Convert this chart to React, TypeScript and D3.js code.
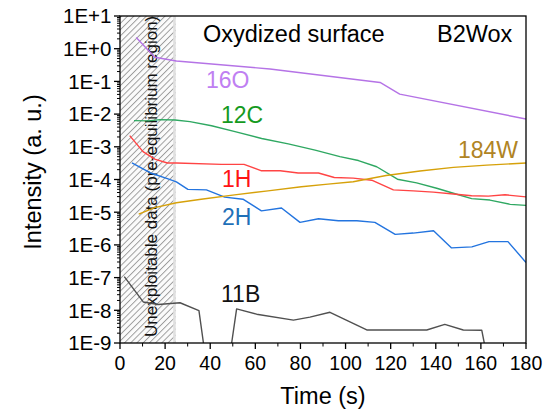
import React from "react";
import * as d3 from "d3";

const xTicks = [0, 20, 40, 60, 80, 100, 120, 140, 160, 180];
const yTickExps = [1, 0, -1, -2, -3, -4, -5, -6, -7, -8, -9];
const yTickLabels = ["1E+1", "1E+0", "1E-1", "1E-2", "1E-3", "1E-4", "1E-5", "1E-6", "1E-7", "1E-8", "1E-9"];

const t16O = [7.2, 15.4, 25, 66.5, 115.3, 124, 180];
const v16O = [2.2, 0.55, 0.42, 0.24, 0.093, 0.041, 0.0071];

const t12C = [6.2, 12.6, 17.7, 24.4, 31, 40.6, 51, 62.8, 74.6, 86.5, 97.5, 105.7, 113.8, 123, 131.5, 140.4, 147.8, 155.9, 164, 173, 180];
const v12C = [6.3e-3, 6.2e-3, 6.8e-3, 6.6e-3, 5.9e-3, 4.4e-3, 2.9e-3, 1.8e-3, 1.23e-3, 7.9e-4, 5.0e-4, 3.8e-4, 2.45e-4, 1.02e-4, 7.9e-5, 5.4e-5, 3.8e-5, 2.6e-5, 2.35e-5, 1.74e-5, 1.62e-5];

const t1H = [4.3, 10.2, 15.4, 21, 25, 45, 55, 62.5, 71, 79, 88, 95, 103.4, 111.6, 121.2, 130, 138.9, 147.8, 155.9, 163.3, 170.7, 180];
const v1H = [2.2e-3, 7.1e-4, 4.2e-4, 3.2e-4, 3.2e-4, 2.9e-4, 2.9e-4, 1.86e-4, 1.86e-4, 1.58e-4, 1.58e-4, 1.15e-4, 1.1e-4, 9.5e-5, 4.8e-5, 4.5e-5, 4.1e-5, 3.6e-5, 3.2e-5, 3.1e-5, 3.4e-5, 2.95e-5];

const t2H = [5.3, 13.9, 21.3, 25, 30.1, 38.3, 46.4, 54.5, 62.7, 71.6, 79.8, 88, 96.8, 105, 113, 122, 130, 139, 147, 156, 163.6, 172, 180];
const v2H = [3.2e-4, 1.55e-4, 1.05e-4, 8.5e-5, 5.0e-5, 4.8e-5, 2.9e-5, 2.5e-5, 1.1e-5, 1.35e-5, 4.9e-6, 6.3e-6, 5.5e-6, 5.5e-6, 4.9e-6, 2.1e-6, 2.3e-6, 2.7e-6, 8.1e-7, 8.7e-7, 1.26e-6, 1.26e-6, 2.9e-7];

const t184W = [8.3, 15.4, 25, 36, 50.8, 65.6, 80.4, 92.2, 103.4, 118, 133, 147.8, 162.6, 180];
const v184W = [8.7e-6, 1.38e-5, 1.95e-5, 2.5e-5, 3.4e-5, 4.5e-5, 6.0e-5, 7.2e-5, 8.5e-5, 1.32e-4, 1.82e-4, 2.35e-4, 2.75e-4, 3.2e-4];

// NaN marks a break in the 11B trace (signal below detection)
const t11B = [1.9, 10.3, 17, 26.6, 35, 37, NaN, 49.5, 51.7, 60.6, 76.9, 84.2, 93.1, 109.4, 136, 144, 152.2, 160.4, 161.5];
const v11B = [1.07e-7, 1.8e-8, 1.5e-8, 1.7e-8, 9.8e-9, 1e-9, NaN, 1e-9, 1.1e-8, 7.6e-9, 5.0e-9, 6.2e-9, 8.7e-9, 2.5e-9, 2.5e-9, 3.7e-9, 2.5e-9, 2.45e-9, 1e-9];

const hatchEnd = 24.7;

const series = [
  { name: "16O", t: t16O, v: v16O, color: "#b573e6", label: "#bf80f2", lx: 206, ly: 88 },
  { name: "12C", t: t12C, v: v12C, color: "#2fa862", label: "#159a1e", lx: 221, ly: 123 },
  { name: "1H", t: t1H, v: v1H, color: "#ff4444", label: "#ff1414", lx: 222, ly: 187 },
  { name: "2H", t: t2H, v: v2H, color: "#2374df", label: "#1f70b8", lx: 222, ly: 225 },
  { name: "184W", t: t184W, v: v184W, color: "#d6a10a", label: "#b08424", lx: 458, ly: 158 },
  { name: "11B", t: t11B, v: v11B, color: "#505050", label: "#111111", lx: 221, ly: 302 },
];

const FONT = "Arial, 'Liberation Sans', sans-serif";

export default function App() {
  const L = 120, R = 526, T = 16, B = 343;
  const x = d3.scaleLinear().domain([0, 180]).range([L, R]);
  const y = d3.scaleLog().domain([1e-9, 10]).range([B, T]);

  const line = d3
    .line<[number, number]>()
    .defined((d) => !isNaN(d[0]) && !isNaN(d[1]))
    .x((d) => x(d[0]))
    .y((d) => y(d[1]));

  const minorY: number[] = [];
  for (let e = -9; e < 1; e++) {
    for (let m = 2; m <= 9; m++) minorY.push(m * Math.pow(10, e));
  }
  const minorX = [10, 30, 50, 70, 90, 110, 130, 150, 170];

  return (
    <svg width={556} height={410} style={{ position: "absolute", left: 0, top: 0, background: "#fff" }} fontFamily={FONT}>
      <defs>
        <pattern id="hatch" patternUnits="userSpaceOnUse" width={4.4} height={4.4} patternTransform="rotate(45)">
          <rect width={4.4} height={4.4} fill="#fbfbfb" />
          <line x1={0.5} y1={0} x2={0.5} y2={4.4} stroke="#8a8a8a" strokeWidth={0.8} />
        </pattern>
        <clipPath id="plotclip">
          <rect x={L} y={T} width={R - L} height={B - T} />
        </clipPath>
      </defs>

      <rect x={L} y={T} width={x(hatchEnd) - L} height={B - T} fill="url(#hatch)" />
      <rect x={x(hatchEnd) - 2.5} y={T} width={2.5} height={B - T} fill="#e0e0e0" />

      <text transform={`translate(157, 337) rotate(-90)`} fontSize={17} fill="#111">
        Unexploitable data (pre-equilibrium region)
      </text>

      <g clipPath="url(#plotclip)">
        {series.map((s) => (
          <path
            key={s.name}
            d={line(s.t.map((t, i) => [t, s.v[i]] as [number, number])) || ""}
            fill="none"
            stroke={s.color}
            strokeWidth={1.4}
            strokeLinejoin="round"
          />
        ))}
      </g>

      {series.map((s) => (
        <text key={s.name + "l"} x={s.lx} y={s.ly} fontSize={23} fill={s.label}>
          {s.name}
        </text>
      ))}

      <text x={203} y={42} fontSize={23.5} fill="#000">Oxydized surface</text>
      <text x={437} y={42} fontSize={23.5} fill="#000">B2Wox</text>

      {/* frame */}
      <rect x={L} y={T} width={R - L} height={B - T} fill="none" stroke="#000" strokeWidth={1.3} />

      {/* y axis ticks */}
      {yTickExps.map((e, i) => (
        <g key={"y" + e}>
          <line x1={L - 6} x2={L} y1={y(Math.pow(10, e))} y2={y(Math.pow(10, e))} stroke="#000" strokeWidth={1.3} />
          <text x={111.5} y={y(Math.pow(10, e))} dy="0.36em" textAnchor="end" fontSize={20.5} fill="#000">
            {yTickLabels[i]}
          </text>
        </g>
      ))}
      {minorY.map((v, i) => (
        <line key={"my" + i} x1={L - 3} x2={L} y1={y(v)} y2={y(v)} stroke="#000" strokeWidth={1} />
      ))}

      {/* x axis ticks */}
      {xTicks.map((t) => (
        <g key={"x" + t}>
          <line x1={x(t)} x2={x(t)} y1={B} y2={B + 6} stroke="#000" strokeWidth={1.3} />
          <text x={x(t)} y={370} textAnchor="middle" fontSize={19.5} fill="#000">
            {t}
          </text>
        </g>
      ))}
      {minorX.map((t) => (
        <line key={"mx" + t} x1={x(t)} x2={x(t)} y1={B} y2={B + 3.5} stroke="#000" strokeWidth={1} />
      ))}

      <text x={323} y={404} textAnchor="middle" fontSize={23.5} fill="#000">Time (s)</text>
      <text transform="translate(41, 172) rotate(-90)" textAnchor="middle" fontSize={23.5} fill="#000">
        Intensity (a. u.)
      </text>
    </svg>
  );
}
